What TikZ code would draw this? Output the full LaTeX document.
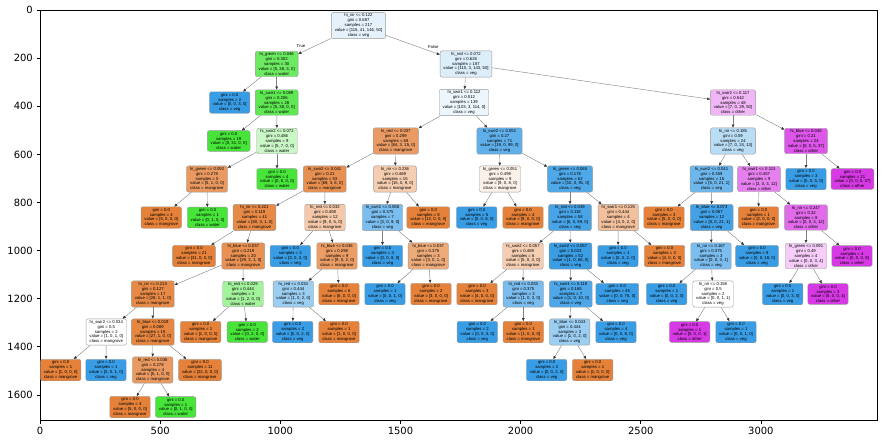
\documentclass[tikz,border=0pt]{standalone}
\usepackage{fontspec}
\usepackage{tikz}
\usepackage{xcolor}
\usetikzlibrary{arrows.meta}

\newfontfamily\gvfont{Liberation Sans}
\newfontfamily\mplfont{DejaVu Sans}

\definecolor{mangrove}{HTML}{E58139}
\definecolor{water}{HTML}{47E539}
\definecolor{veg}{HTML}{399DE5}
\definecolor{other}{HTML}{D739E5}

\tikzset{
    tnode/.style={draw=black!40, line width=0.35pt, rounded corners=1.8pt, align=center,
        inner xsep=2.9pt, inner ysep=1.35pt, font=\gvfont\fontsize{3.6}{4.1}\selectfont},
    tedge/.style={draw=black!50, line width=0.35pt, -{Triangle[length=2.6pt,width=2.2pt,color=black!80]}},
    tlabel/.style={font=\gvfont\fontsize{3.6}{4.1}\selectfont, inner sep=0pt},
    ticklbl/.style={font=\mplfont\fontsize{8.5}{10}\selectfont, inner sep=0pt}
}

\begin{document}
\begin{tikzpicture}[x=0.03cm, y=-0.03cm]
    \useasboundingbox (0,0) rectangle (887,443);

    %axes
    \draw[line width=0.68pt] (40,10) rectangle (877,420);
    \draw[line width=0.68pt] (40,420) -- (40,423.5); \draw[line width=0.68pt] (160.2,420) -- (160.2,423.5);
    \draw[line width=0.68pt] (280.3,420) -- (280.3,423.5); \draw[line width=0.68pt] (400.5,420) -- (400.5,423.5);
    \draw[line width=0.68pt] (520.6,420) -- (520.6,423.5); \draw[line width=0.68pt] (640.8,420) -- (640.8,423.5);
    \draw[line width=0.68pt] (760.9,420) -- (760.9,423.5);
    \node[ticklbl] (x0) at (40,430.5) {0};
    \node[ticklbl] (x500) at (160.2,430.5) {500};
    \node[ticklbl] (x1000) at (280.3,430.5) {1000};
    \node[ticklbl] (x1500) at (400.5,430.5) {1500};
    \node[ticklbl] (x2000) at (520.6,430.5) {2000};
    \node[ticklbl] (x2500) at (640.8,430.5) {2500};
    \node[ticklbl] (x3000) at (760.9,430.5) {3000};
    \draw[line width=0.68pt] (40,10) -- (36.5,10); \draw[line width=0.68pt] (40,58.1) -- (36.5,58.1);
    \draw[line width=0.68pt] (40,106.2) -- (36.5,106.2); \draw[line width=0.68pt] (40,154.4) -- (36.5,154.4);
    \draw[line width=0.68pt] (40,202.5) -- (36.5,202.5); \draw[line width=0.68pt] (40,250.6) -- (36.5,250.6);
    \draw[line width=0.68pt] (40,298.7) -- (36.5,298.7); \draw[line width=0.68pt] (40,346.8) -- (36.5,346.8);
    \draw[line width=0.68pt] (40,395) -- (36.5,395);
    \node[ticklbl, anchor=east] (y0) at (33,10) {0};
    \node[ticklbl, anchor=east] (y200) at (33,58.1) {200};
    \node[ticklbl, anchor=east] (y400) at (33,106.2) {400};
    \node[ticklbl, anchor=east] (y600) at (33,154.4) {600};
    \node[ticklbl, anchor=east] (y800) at (33,202.5) {800};
    \node[ticklbl, anchor=east] (y1000) at (33,250.6) {1000};
    \node[ticklbl, anchor=east] (y1200) at (33,298.7) {1200};
    \node[ticklbl, anchor=east] (y1400) at (33,346.8) {1400};
    \node[ticklbl, anchor=east] (y1600) at (33,395) {1600};

    %tree nodes
    \node[tnode, fill=veg!13] (a1) at (358.5,25.5) {hi\_nir <= 0.122\\gini = 0.687\\samples = 217\\value = [115, 41, 146, 50]\\class = veg};

    \node[tnode, fill=water!80] (b1) at (276.7,64) {hi\_green <= 0.046\\gini = 0.302\\samples = 30\\value = [5, 38, 3, 0]\\class = water};
    \node[tnode, fill=veg!17] (b2) at (466,64) {hi\_red <= 0.072\\gini = 0.626\\samples = 187\\value = [110, 3, 143, 50]\\class = veg};

    \node[tnode, fill=veg] (c1) at (229.7,102.5) {gini = 0.0\\samples = 2\\value = [0, 0, 3, 0]\\class = veg};
    \node[tnode, fill=water!87] (c2) at (276.7,102.5) {hi\_swir1 <= 0.089\\gini = 0.206\\samples = 28\\value = [5, 38, 0, 0]\\class = water};
    \node[tnode, fill=veg!9] (c3) at (464,102.5) {hi\_swir1 <= 0.112\\gini = 0.512\\samples = 139\\value = [103, 3, 114, 0]\\class = veg};
    \node[tnode, fill=other!37] (c4) at (733,102.5) {hi\_swir2 <= 0.117\\gini = 0.542\\samples = 48\\value = [7, 0, 29, 50]\\class = other};

    \node[tnode, fill=water] (d1) at (228.7,141) {gini = 0.0\\samples = 19\\value = [0, 31, 0, 0]\\class = water};
    \node[tnode, fill=water!29] (d2) at (277,141) {hi\_swir2 <= 0.072\\gini = 0.486\\samples = 9\\value = [5, 7, 0, 0]\\class = water};
    \node[tnode, fill=mangrove!79] (d3) at (395.8,141) {hi\_red <= 0.037\\gini = 0.299\\samples = 68\\value = [84, 3, 15, 0]\\class = mangrove};
    \node[tnode, fill=veg!81] (d4) at (499.5,141) {hi\_swir2 <= 0.051\\gini = 0.27\\samples = 71\\value = [19, 0, 99, 0]\\class = veg};
    \node[tnode, fill=veg!35] (d5) at (733,141) {hi\_nir <= 0.185\\gini = 0.59\\samples = 24\\value = [7, 0, 24, 13]\\class = veg};
    \node[tnode, fill=other!86] (d6) at (806,141) {hi\_blue <= 0.045\\gini = 0.21\\samples = 24\\value = [0, 0, 5, 37]\\class = other};

    \node[tnode, fill=mangrove!80] (e1) at (207,179) {hi\_green <= 0.092\\gini = 0.278\\samples = 5\\value = [5, 1, 0, 0]\\class = mangrove};
    \node[tnode, fill=water] (e2) at (277,179) {gini = 0.0\\samples = 4\\value = [0, 6, 0, 0]\\class = water};
    \node[tnode, fill=mangrove!88] (e3) at (324.7,179) {hi\_swir2 <= 0.041\\gini = 0.21\\samples = 53\\value = [69, 3, 6, 0]\\class = mangrove};
    \node[tnode, fill=mangrove!40] (e4) at (395,179) {hi\_nir <= 0.236\\gini = 0.469\\samples = 15\\value = [15, 0, 9, 0]\\class = mangrove};
    \node[tnode, fill=mangrove!11] (e5) at (500,179) {hi\_green <= 0.051\\gini = 0.498\\samples = 9\\value = [9, 0, 8, 0]\\class = mangrove};
    \node[tnode, fill=veg!89] (e6) at (570,179) {hi\_green <= 0.065\\gini = 0.178\\samples = 62\\value = [10, 0, 91, 0]\\class = veg};
    \node[tnode, fill=veg!73] (e7) at (711.5,179) {hi\_swir2 <= 0.041\\gini = 0.359\\samples = 15\\value = [5, 0, 21, 1]\\class = veg};
    \node[tnode, fill=other!64] (e8) at (759,179) {hi\_swir1 <= 0.113\\gini = 0.457\\samples = 9\\value = [2, 0, 3, 12]\\class = other};
    \node[tnode, fill=veg] (e9) at (806,179) {gini = 0.0\\samples = 3\\value = [0, 0, 5, 0]\\class = veg};
    \node[tnode, fill=other] (e10) at (852.5,179) {gini = 0.0\\samples = 21\\value = [0, 0, 0, 37]\\class = other};

    \node[tnode, fill=mangrove] (f1) at (161.3,217.5) {gini = 0.0\\samples = 4\\value = [5, 0, 0, 0]\\class = mangrove};
    \node[tnode, fill=water] (f2) at (207.5,217.5) {gini = 0.0\\samples = 1\\value = [0, 1, 0, 0]\\class = water};
    \node[tnode, fill=mangrove!93] (f3) at (254.5,217.5) {hi\_nir <= 0.221\\gini = 0.119\\samples = 41\\value = [60, 3, 1, 0]\\class = mangrove};
    \node[tnode, fill=mangrove!44] (f4) at (325,217.5) {hi\_red <= 0.032\\gini = 0.459\\samples = 12\\value = [9, 0, 5, 0]\\class = mangrove};
    \node[tnode, fill=veg!67] (f5) at (382.5,217.5) {hi\_swir1 <= 0.088\\gini = 0.375\\samples = 7\\value = [3, 0, 9, 0]\\class = veg};
    \node[tnode, fill=mangrove] (f6) at (428.3,217.5) {gini = 0.0\\samples = 8\\value = [12, 0, 0, 0]\\class = mangrove};
    \node[tnode, fill=veg] (f7) at (476.7,217.5) {gini = 0.0\\samples = 5\\value = [0, 0, 8, 0]\\class = veg};
    \node[tnode, fill=mangrove] (f8) at (523,217.5) {gini = 0.0\\samples = 4\\value = [9, 0, 0, 0]\\class = mangrove};
    \node[tnode, fill=veg!93] (f9) at (570,217.5) {hi\_red <= 0.039\\gini = 0.118\\samples = 58\\value = [6, 0, 89, 0]\\class = veg};
    \node[tnode, fill=mangrove!50] (f10) at (618.3,217.5) {hi\_swir1 <= 0.125\\gini = 0.444\\samples = 4\\value = [4, 0, 2, 0]\\class = mangrove};
    \node[tnode, fill=mangrove] (f11) at (664,217.5) {gini = 0.0\\samples = 3\\value = [5, 0, 0, 0]\\class = mangrove};
    \node[tnode, fill=veg!95] (f12) at (711.7,217.5) {hi\_blue <= 0.073\\gini = 0.087\\samples = 12\\value = [0, 0, 21, 1]\\class = veg};
    \node[tnode, fill=mangrove] (f13) at (758.5,217.5) {gini = 0.0\\samples = 1\\value = [2, 0, 0, 0]\\class = mangrove};
    \node[tnode, fill=other!75] (f14) at (806,217.5) {hi\_nir <= 0.247\\gini = 0.32\\samples = 8\\value = [0, 0, 3, 12]\\class = other};

    \node[tnode, fill=mangrove] (g1) at (194,256) {gini = 0.0\\samples = 21\\value = [31, 0, 0, 0]\\class = mangrove};
    \node[tnode, fill=mangrove!87] (g2) at (243.3,256) {hi\_blue <= 0.037\\gini = 0.219\\samples = 20\\value = [29, 3, 1, 0]\\class = mangrove};
    \node[tnode, fill=veg] (g3) at (290.3,256) {gini = 0.0\\samples = 3\\value = [0, 0, 3, 0]\\class = veg};
    \node[tnode, fill=mangrove!78] (g4) at (337,256) {hi\_blue <= 0.036\\gini = 0.298\\samples = 9\\value = [9, 0, 2, 0]\\class = mangrove};
    \node[tnode, fill=veg] (g5) at (382.5,256) {gini = 0.0\\samples = 4\\value = [0, 0, 8, 0]\\class = veg};
    \node[tnode, fill=mangrove!67] (g6) at (428.3,256) {hi\_blue <= 0.037\\gini = 0.375\\samples = 3\\value = [3, 0, 1, 0]\\class = mangrove};
    \node[tnode, fill=mangrove!40] (g7) at (523,256) {hi\_swir2 <= 0.057\\gini = 0.469\\samples = 6\\value = [5, 0, 3, 0]\\class = mangrove};
    \node[tnode, fill=veg!99] (g8) at (570.5,256) {hi\_swir2 <= 0.057\\gini = 0.023\\samples = 52\\value = [1, 0, 86, 0]\\class = veg};
    \node[tnode, fill=veg] (g9) at (618,256) {gini = 0.0\\samples = 1\\value = [0, 0, 2, 0]\\class = veg};
    \node[tnode, fill=mangrove] (g10) at (664.5,256) {gini = 0.0\\samples = 3\\value = [4, 0, 0, 0]\\class = mangrove};
    \node[tnode, fill=veg!67] (g11) at (711,256) {hi\_nir <= 0.167\\gini = 0.375\\samples = 3\\value = [0, 0, 3, 1]\\class = veg};
    \node[tnode, fill=veg] (g12) at (757,256) {gini = 0.0\\samples = 9\\value = [0, 0, 18, 0]\\class = veg};
    \node[tnode, fill=other!25] (g13) at (806,256) {hi\_green <= 0.091\\gini = 0.49\\samples = 4\\value = [0, 0, 3, 4]\\class = other};
    \node[tnode, fill=other] (g14) at (852,256) {gini = 0.0\\samples = 4\\value = [0, 0, 0, 8]\\class = other};

    \node[tnode, fill=mangrove!93] (h1) at (152.8,294) {hi\_nir <= 0.213\\gini = 0.127\\samples = 17\\value = [28, 1, 1, 0]\\class = mangrove};
    \node[tnode, fill=water!50] (h2) at (243,294) {hi\_red <= 0.029\\gini = 0.444\\samples = 3\\value = [1, 2, 0, 0]\\class = water};
    \node[tnode, fill=veg!50] (h3) at (293.3,294) {hi\_red <= 0.034\\gini = 0.444\\samples = 3\\value = [1, 0, 2, 0]\\class = veg};
    \node[tnode, fill=mangrove] (h4) at (339,294) {gini = 0.0\\samples = 6\\value = [8, 0, 0, 0]\\class = mangrove};
    \node[tnode, fill=veg] (h5) at (385,294) {gini = 0.0\\samples = 1\\value = [0, 0, 1, 0]\\class = veg};
    \node[tnode, fill=mangrove] (h6) at (431,294) {gini = 0.0\\samples = 2\\value = [3, 0, 0, 0]\\class = mangrove};
    \node[tnode, fill=mangrove] (h7) at (477,294) {gini = 0.0\\samples = 3\\value = [4, 0, 0, 0]\\class = mangrove};
    \node[tnode, fill=veg!67] (h8) at (523.3,294) {hi\_red <= 0.033\\gini = 0.375\\samples = 3\\value = [1, 0, 3, 0]\\class = veg};
    \node[tnode, fill=veg!90] (h9) at (570.8,294) {hi\_swir1 <= 0.119\\gini = 0.165\\samples = 7\\value = [1, 0, 10, 0]\\class = veg};
    \node[tnode, fill=veg] (h10) at (617.3,294) {gini = 0.0\\samples = 45\\value = [0, 0, 76, 0]\\class = veg};
    \node[tnode, fill=veg] (h11) at (666.7,294) {gini = 0.0\\samples = 1\\value = [0, 0, 2, 0]\\class = veg};
    \node[tnode, fill=white] (h12) at (713,294) {hi\_nir <= 0.158\\gini = 0.5\\samples = 2\\value = [0, 0, 1, 1]\\class = veg};
    \node[tnode, fill=veg] (h13) at (782.7,294) {gini = 0.0\\samples = 1\\value = [0, 0, 3, 0]\\class = veg};
    \node[tnode, fill=other] (h14) at (828,294) {gini = 0.0\\samples = 3\\value = [0, 0, 0, 4]\\class = other};

    \node[tnode, fill=white] (i1) at (106.3,332) {hi\_swir2 <= 0.034\\gini = 0.5\\samples = 2\\value = [1, 0, 1, 0]\\class = mangrove};
    \node[tnode, fill=mangrove!96] (i2) at (152.8,332) {hi\_blue <= 0.019\\gini = 0.069\\samples = 15\\value = [27, 1, 0, 0]\\class = mangrove};
    \node[tnode, fill=mangrove] (i3) at (200.7,332) {gini = 0.0\\samples = 1\\value = [1, 0, 0, 0]\\class = mangrove};
    \node[tnode, fill=water] (i4) at (247.3,332) {gini = 0.0\\samples = 2\\value = [0, 2, 0, 0]\\class = water};
    \node[tnode, fill=veg] (i5) at (292.7,332) {gini = 0.0\\samples = 2\\value = [0, 0, 2, 0]\\class = veg};
    \node[tnode, fill=mangrove] (i6) at (339,332) {gini = 0.0\\samples = 1\\value = [1, 0, 0, 0]\\class = mangrove};
    \node[tnode, fill=veg] (i7) at (477.3,332) {gini = 0.0\\samples = 2\\value = [0, 0, 3, 0]\\class = veg};
    \node[tnode, fill=mangrove] (i8) at (523.3,332) {gini = 0.0\\samples = 1\\value = [1, 0, 0, 0]\\class = mangrove};
    \node[tnode, fill=veg!50] (i9) at (569.7,332) {hi\_blue <= 0.043\\gini = 0.444\\samples = 3\\value = [1, 0, 2, 0]\\class = veg};
    \node[tnode, fill=veg] (i10) at (616,332) {gini = 0.0\\samples = 4\\value = [0, 0, 8, 0]\\class = veg};
    \node[tnode, fill=other] (i11) at (689.7,332) {gini = 0.0\\samples = 1\\value = [0, 0, 0, 1]\\class = other};
    \node[tnode, fill=veg] (i12) at (736,332) {gini = 0.0\\samples = 1\\value = [0, 0, 1, 0]\\class = veg};

    \node[tnode, fill=mangrove] (j1) at (60.7,370) {gini = 0.0\\samples = 1\\value = [1, 0, 0, 0]\\class = mangrove};
    \node[tnode, fill=veg] (j2) at (106,370) {gini = 0.0\\samples = 1\\value = [0, 0, 1, 0]\\class = veg};
    \node[tnode, fill=mangrove!80] (j3) at (152.7,370) {hi\_red <= 0.036\\gini = 0.278\\samples = 4\\value = [5, 1, 0, 0]\\class = mangrove};
    \node[tnode, fill=mangrove] (j4) at (200,370) {gini = 0.0\\samples = 11\\value = [22, 0, 0, 0]\\class = mangrove};
    \node[tnode, fill=veg] (j5) at (546.7,370) {gini = 0.0\\samples = 2\\value = [0, 0, 2, 0]\\class = veg};
    \node[tnode, fill=mangrove] (j6) at (592.7,370) {gini = 0.0\\samples = 1\\value = [1, 0, 0, 0]\\class = mangrove};

    \node[tnode, fill=mangrove] (k1) at (130,407) {gini = 0.0\\samples = 3\\value = [5, 0, 0, 0]\\class = mangrove};
    \node[tnode, fill=water] (k2) at (175.7,407) {gini = 0.0\\samples = 1\\value = [0, 1, 0, 0]\\class = water};

    %edges
    \draw[tedge] (a1) -- (b1); \draw[tedge] (a1) -- (b2);
    \node[tlabel] (ltrue) at (301,46) {True};
    \node[tlabel] (lfalse) at (433.3,46.7) {False};
    \draw[tedge] (b1) -- (c1); \draw[tedge] (b1) -- (c2);
    \draw[tedge] (b2) -- (c3); \draw[tedge] (b2) -- (c4);
    \draw[tedge] (c2) -- (d1); \draw[tedge] (c2) -- (d2);
    \draw[tedge] (c3) -- (d3); \draw[tedge] (c3) -- (d4);
    \draw[tedge] (c4) -- (d5); \draw[tedge] (c4) -- (d6);
    \draw[tedge] (d2) -- (e1); \draw[tedge] (d2) -- (e2);
    \draw[tedge] (d3) -- (e3); \draw[tedge] (d3) -- (e4);
    \draw[tedge] (d4) -- (e5); \draw[tedge] (d4) -- (e6);
    \draw[tedge] (d5) -- (e7); \draw[tedge] (d5) -- (e8);
    \draw[tedge] (d6) -- (e9); \draw[tedge] (d6) -- (e10);
    \draw[tedge] (e1) -- (f1); \draw[tedge] (e1) -- (f2);
    \draw[tedge] (e3) -- (f3); \draw[tedge] (e3) -- (f4);
    \draw[tedge] (e4) -- (f5); \draw[tedge] (e4) -- (f6);
    \draw[tedge] (e5) -- (f7); \draw[tedge] (e5) -- (f8);
    \draw[tedge] (e6) -- (f9); \draw[tedge] (e6) -- (f10);
    \draw[tedge] (e7) -- (f11); \draw[tedge] (e7) -- (f12);
    \draw[tedge] (e8) -- (f13); \draw[tedge] (e8) -- (f14);
    \draw[tedge] (f3) -- (g1); \draw[tedge] (f3) -- (g2);
    \draw[tedge] (f4) -- (g3); \draw[tedge] (f4) -- (g4);
    \draw[tedge] (f5) -- (g5); \draw[tedge] (f5) -- (g6);
    \draw[tedge] (f9) -- (g7); \draw[tedge] (f9) -- (g8);
    \draw[tedge] (f10) -- (g9); \draw[tedge] (f10) -- (g10);
    \draw[tedge] (f12) -- (g11); \draw[tedge] (f12) -- (g12);
    \draw[tedge] (f14) -- (g13); \draw[tedge] (f14) -- (g14);
    \draw[tedge] (g2) -- (h1); \draw[tedge] (g2) -- (h2);
    \draw[tedge] (g4) -- (h3); \draw[tedge] (g4) -- (h4);
    \draw[tedge] (g6) -- (h5); \draw[tedge] (g6) -- (h6);
    \draw[tedge] (g7) -- (h7); \draw[tedge] (g7) -- (h8);
    \draw[tedge] (g8) -- (h9); \draw[tedge] (g8) -- (h10);
    \draw[tedge] (g11) -- (h11); \draw[tedge] (g11) -- (h12);
    \draw[tedge] (g13) -- (h13); \draw[tedge] (g13) -- (h14);
    \draw[tedge] (h1) -- (i1); \draw[tedge] (h1) -- (i2);
    \draw[tedge] (h2) -- (i3); \draw[tedge] (h2) -- (i4);
    \draw[tedge] (h3) -- (i5); \draw[tedge] (h3) -- (i6);
    \draw[tedge] (h8) -- (i7); \draw[tedge] (h8) -- (i8);
    \draw[tedge] (h9) -- (i9); \draw[tedge] (h9) -- (i10);
    \draw[tedge] (h12) -- (i11); \draw[tedge] (h12) -- (i12);
    \draw[tedge] (i1) -- (j1); \draw[tedge] (i1) -- (j2);
    \draw[tedge] (i2) -- (j3); \draw[tedge] (i2) -- (j4);
    \draw[tedge] (i9) -- (j5); \draw[tedge] (i9) -- (j6);
    \draw[tedge] (j3) -- (k1); \draw[tedge] (j3) -- (k2);
\end{tikzpicture}
\end{document}
